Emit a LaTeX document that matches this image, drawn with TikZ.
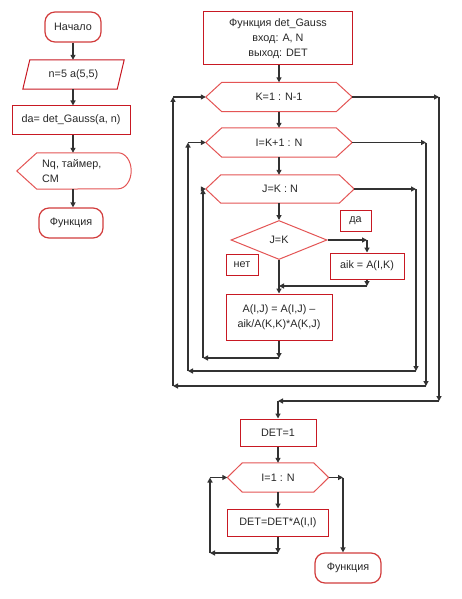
\documentclass[tikz,border=0pt]{standalone}
\usepackage{fontspec}
\setmainfont{Liberation Sans}
\usetikzlibrary{arrows.meta,shapes.geometric,calc}
\definecolor{boxred}{RGB}{200,25,35}
\definecolor{hexred}{RGB}{228,85,85}
\definecolor{termred}{RGB}{210,60,60}
\definecolor{linegray}{RGB}{50,50,50}
\definecolor{txt}{RGB}{40,40,40}
\newcommand\hexdraw[2]{\draw[hexline] (#1.west) -- ([xshift=#2]#1.north west) -- ([xshift=-#2]#1.north east) -- (#1.east) -- ([xshift=-#2]#1.south east) -- ([xshift=#2]#1.south west) -- cycle;}
\begin{document}
\begin{tikzpicture}[x=1pt,y=-1pt,
  every node/.style={font=\fontsize{10.8}{15}\selectfont, text=txt, inner sep=0pt, align=center},
  box/.style n args={2}{draw=boxred, line width=1pt, rectangle, minimum width=#1, minimum height=#2},
  ghost/.style n args={2}{rectangle, minimum width=#1, minimum height=#2},
  hexline/.style={draw=hexred, line width=1pt},
  redline/.style={draw=boxred, line width=1pt},
  term/.style={draw=termred, line width=1.2pt, rounded corners=10pt, minimum width=#1, minimum height=30pt},
  conn/.style={draw=linegray, line width=1.4pt, -{Triangle[length=5pt,width=5pt]}},
  dia/.style={diamond, draw=hexred, line width=1pt, minimum width=96pt, minimum height=39pt}
]
\fill[white] (0,0) rectangle (461,599);
\useasboundingbox (0,0) rectangle (461,599);

% ---------- left column ----------
\node[term=56pt] (start) at (73,27) {Начало};
\node[ghost={101pt}{29pt}] (n5) at (73.5,74.5) {n=5 a(5,5)};
\draw[redline] (n5.south west) -- ([xshift=7pt]n5.north west) -- (n5.north east) -- ([xshift=-7pt]n5.south east) -- cycle;
\node[box={118pt}{28pt}] (da) at (71,120) {da= det\_Gauss(a, n)};
\node[ghost={114pt}{36pt}] (nq) at (74,171) {};
\draw[hexline] (nq.west) -- ([xshift=20pt]nq.north west) -- ([xshift=-13pt]nq.north east)
  arc[start angle=90, end angle=-90, x radius=13pt, y radius=18pt] -- ([xshift=20pt]nq.south west) -- cycle;
\node[anchor=west, align=left] (nqtext) at (42,171) {Nq, таймер,\\CM};
\node[term=64pt] (fun1) at (71,223) {Функция};

\draw[conn] (start.south) -- (start.south |- n5.north);
\draw[conn] (start.south |- n5.south) -- (start.south |- da.north);
\draw[conn] (start.south |- da.south) -- (start.south |- nq.north);
\draw[conn] (start.south |- nq.south) -- (start.south |- fun1.north);

% ---------- right column ----------
\node[box={149pt}{53pt}] (F) at (278,38.5) {Функция det\_Gauss\\вход: A, N\\выход: DET};
\node[ghost={146pt}{29pt}] (K) at (279,97) {K=1 : N-1};
\hexdraw{K}{16pt}
\node[ghost={146pt}{29pt}] (I) at (279,142.5) {I=K+1 : N};
\hexdraw{I}{16pt}
\node[ghost={148pt}{28pt}] (J) at (280,189) {J=K : N};
\hexdraw{J}{15pt}
\node[dia] (D) at (279,240) {J=K};
\node[box={31pt}{21pt}] (yes) at (355.5,220.5) {да};
\node[box={32pt}{21pt}] (no) at (242,264.5) {нет};
\node[box={74pt}{26pt}] (aik) at (367,266) {aik = A(I,K)};
\node[box={106pt}{46pt}] (A) at (279,317) {A(I,J) = A(I,J) –\\aik/A(K,K)*A(K,J)};

\coordinate (c1) at (367,240);
\coordinate (c2) at (367,286);
\coordinate (c3) at (279,358);
\coordinate (c4) at (203,358);
\coordinate (c5) at (203,189);
\coordinate (c6) at (416,189);
\coordinate (c7) at (416,371);
\coordinate (c8) at (188,371);
\coordinate (c9) at (188,142.5);
\coordinate (c10) at (426,142.5);
\coordinate (c11) at (426,386);
\coordinate (c12) at (173,386);
\coordinate (c13) at (173,97);
\coordinate (c14) at (439,97);
\coordinate (c15) at (439,401);

\draw[conn] (K.north |- F.south) -- (K.north);
\draw[conn] (K.south) -- (K.south |- I.north);
\draw[conn] (K.south |- I.south) -- (K.south |- J.north);
\draw[conn] (K.south |- J.south) -- (D.north);
\draw[conn] (D.east) -- (c1);
\draw[conn] (c1) -- (aik.north);
\draw[conn] (aik.south) -- (c2);
\draw[conn] (c2) -- (c2 -| A.north);
\draw[conn] (D.south) -- (A.north);
\draw[conn] (A.south) -- (c3);
\draw[conn] (c3) -- (c4);
\draw[conn] (c4) -- (c5);
\draw[conn] (c5) -- (J.west);
\draw[conn] (J.east) -- (c6);
\draw[conn] (c6) -- (c7);
\draw[conn] (c7) -- (c8);
\draw[conn] (c8) -- (c9);
\draw[conn] (c9) -- (I.west);
\draw[conn] (I.east) -- (c10);
\draw[conn] (c10) -- (c11);
\draw[conn] (c11) -- (c12);
\draw[conn] (c12) -- (c13);
\draw[conn] (c13) -- (K.west);
\draw[conn] (K.east) -- (c14);
\draw[conn] (c14) -- (c15);

% ---------- bottom part ----------
\node[box={76pt}{27pt}] (det1) at (278,432.5) {DET=1};
\node[ghost={101pt}{29pt}] (II) at (278,477.5) {I=1 : N};
\hexdraw{II}{15pt}
\node[box={101pt}{27pt}] (dd) at (278,522.5) {DET=DET*A(I,I)};
\node[term=66pt] (fun2) at (348,568) {Функция};

\coordinate (c16) at (278,401);
\coordinate (c17) at (278,553);
\coordinate (c18) at (210,553);
\coordinate (c19) at (210,477.5);
\coordinate (c20) at (343,477.5);

\draw[conn] (c15) -- (c16);
\draw[conn] (c16) -- (det1.north);
\draw[conn] (det1.south) -- (II.north);
\draw[conn] (II.south) -- (dd.north);
\draw[conn] (dd.south) -- (c17);
\draw[conn] (c17) -- (c18);
\draw[conn] (c18) -- (c19);
\draw[conn] (c19) -- (II.west);
\draw[conn] (II.east) -- (c20);
\draw[conn] (c20) -- (c20 |- fun2.north);
\end{tikzpicture}
\end{document}
